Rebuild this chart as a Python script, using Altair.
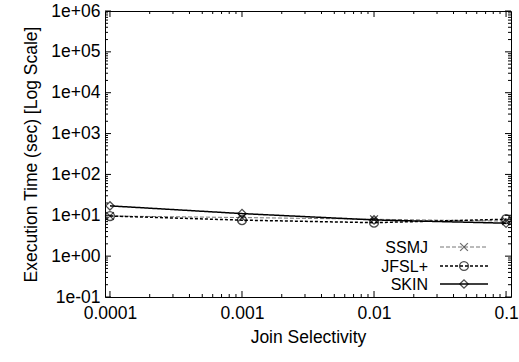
import altair as alt
import pandas as pd

selectivity = [0.0001, 0.001, 0.01, 0.1]
ssmj = [9.6, 8.8, 8.0, 7.2]
jfsl = [9.6, 7.6, 6.6, 8.0]
skin = [17.0, 11.0, 7.7, 6.4]
series_names = ["SSMJ", "JFSL+", "SKIN"]

y_major = [1e-1, 1e0, 1e1, 1e2, 1e3, 1e4, 1e5, 1e6]
y_minor = [m * 10.0 ** e for e in range(-1, 6) for m in range(2, 10)]
x_major = [0.0001, 0.001, 0.01, 0.1]
x_minor = [m * 10.0 ** e for e in range(-5, -1) for m in range(2, 10)]
x_minor = [v for v in x_minor if 9.2e-5 <= v <= 0.109]

W, H = 406, 286
FONT = "Liberation Sans"
FS = 17.5
LFS = 16

rows = []
for name, vals in zip(series_names, [ssmj, jfsl, skin]):
    for s, v in zip(selectivity, vals):
        rows.append({"sel": s, "time": v, "series": name})
df = pd.DataFrame(rows)

xscale = alt.Scale(type="log", domain=[9.17e-5, 0.109], nice=False)
yscale = alt.Scale(type="log", domain=[0.1, 1e6], nice=False)

XPATH = "M-1,-1L1,1M-1,1L1,-1"
styles = {
    "SSMJ": dict(color="#777777", dash=[4, 2], width=1.0, shape=XPATH, size=60),
    "JFSL+": dict(color="#000000", dash=[3, 2], width=1.5, shape="circle", size=80),
    "SKIN": dict(color="#000000", dash=[1, 0], width=1.5, shape="diamond", size=70),
}

base = alt.Chart(df)

axes_layer = base.mark_point(opacity=0).encode(
    x=alt.X("sel:Q", scale=xscale,
            axis=alt.Axis(values=x_major, format="~g", ticks=False, domain=False, grid=False,
                          tickSize=0, labelPadding=7, labelFontSize=FS, labelFont=FONT,
                          labelColor="black", title="Join Selectivity", titleFont=FONT,
                          titleFontSize=FS, titleFontWeight="normal", titleColor="black",
                          titlePadding=7, labelFlush=False)),
    y=alt.Y("time:Q", scale=yscale,
            axis=alt.Axis(values=y_major, ticks=False, domain=False, grid=False, tickSize=0,
                          labelPadding=5, labelFontSize=FS, labelFont=FONT, labelColor="black",
                          labelExpr="'1e' + (round(log(datum.value)/LN10) < 0 ? '-' : '+') + '0' + abs(round(log(datum.value)/LN10))",
                          title="Execution Time (sec) [Log Scale]", titleFont=FONT,
                          titleFontSize=FS, titleFontWeight="normal", titleColor="black",
                          titlePadding=10, labelFlush=False)),
)

layers = [axes_layer]

# tick marks (inward, mirrored)
ymaj = pd.DataFrame({"v": y_major})
ymin = pd.DataFrame({"v": y_minor})
xmaj = pd.DataFrame({"v": x_major})
xmin = pd.DataFrame({"v": x_minor})
for d, L in [(ymaj, 6), (ymin, 3)]:
    layers.append(alt.Chart(d).mark_rule(color="black", strokeWidth=1).encode(
        y=alt.Y("v:Q", scale=yscale), x=alt.value(0), x2=alt.value(L)))
    layers.append(alt.Chart(d).mark_rule(color="black", strokeWidth=1).encode(
        y=alt.Y("v:Q", scale=yscale), x=alt.value(W - L), x2=alt.value(W)))
for d, L in [(xmaj, 6), (xmin, 3)]:
    layers.append(alt.Chart(d).mark_rule(color="black", strokeWidth=1).encode(
        x=alt.X("v:Q", scale=xscale), y=alt.value(H - L), y2=alt.value(H)))
    layers.append(alt.Chart(d).mark_rule(color="black", strokeWidth=1).encode(
        x=alt.X("v:Q", scale=xscale), y=alt.value(0), y2=alt.value(L)))

for name in series_names:
    st = styles[name]
    sub = base.transform_filter(alt.datum.series == name)
    layers.append(sub.mark_line(color=st["color"], strokeDash=st["dash"],
                                strokeWidth=st["width"]).encode(
        x=alt.X("sel:Q", scale=xscale), y=alt.Y("time:Q", scale=yscale)))
    layers.append(sub.mark_point(shape=st["shape"], size=st["size"],
                                 filled=False, color="black", strokeWidth=1.3).encode(
        x=alt.X("sel:Q", scale=xscale), y=alt.Y("time:Q", scale=yscale)))

# legend (inside, bottom right)
leg_y = [236, 255, 273]
for name, ly in zip(series_names, leg_y):
    st = styles[name]
    ldf = pd.DataFrame({"series": [name]})
    lc = alt.Chart(ldf)
    layers.append(lc.mark_text(align="right", baseline="middle", font=FONT, fontSize=LFS,
                               color="black").encode(
        text="series:N", x=alt.value(323), y=alt.value(ly + 1)))
    layers.append(lc.mark_rule(color=st["color"], strokeDash=st["dash"],
                               strokeWidth=st["width"]).encode(
        x=alt.value(335), x2=alt.value(383), y=alt.value(ly)))
    layers.append(lc.mark_point(shape=st["shape"], size=st["size"],
                                filled=False, color="#333333" if name == "SSMJ" else "black",
                                strokeWidth=1.3).encode(
        x=alt.value(359), y=alt.value(ly)))

chart = alt.layer(*layers).properties(
    width=W, height=H,
    autosize=alt.AutoSizeParams(type="none"),
    padding={"left": 105, "top": 11, "right": 8, "bottom": 65},
    background="white",
).configure_view(stroke="black", strokeWidth=1)

chart.save("out.html", embed_options={"renderer": "svg", "actions": False})
